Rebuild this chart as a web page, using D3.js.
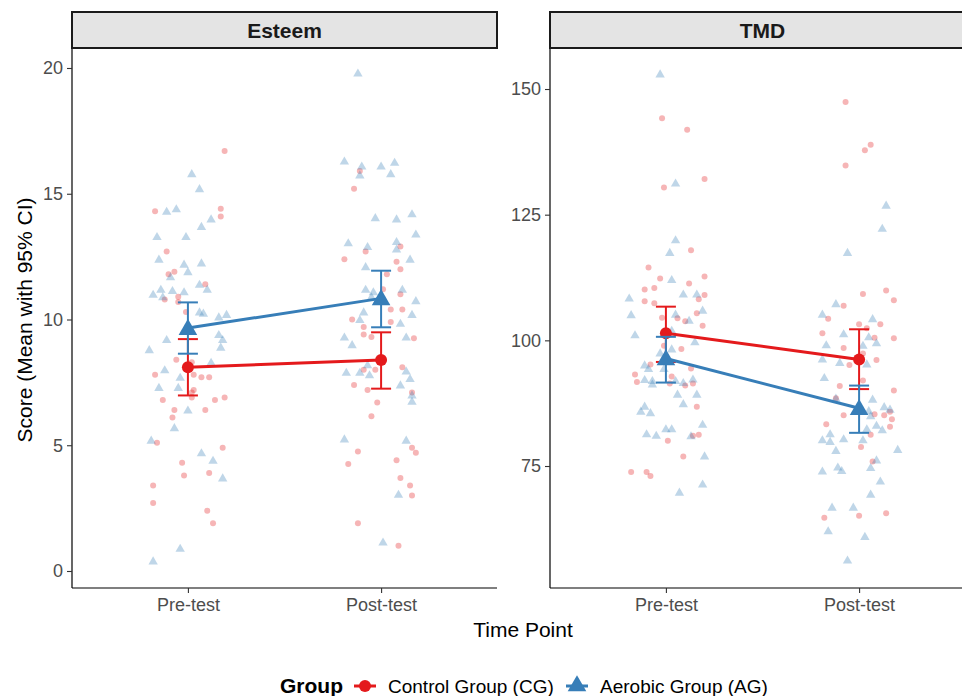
<!DOCTYPE html>
<html><head><meta charset="utf-8">
<script src="https://cdn.jsdelivr.net/npm/d3@7"></script>
<style>
html,body{margin:0;padding:0;background:#fff;}
svg{display:block;font-family:"Liberation Sans",Arial,sans-serif;}
</style></head>
<body><svg id="c" width="962" height="696"></svg>
<script>
// ---------- data ----------
const timePoints = ["Pre-test", "Post-test"];
const facets = ["Esteem", "TMD"];
const groups = ["Control Group (CG)", "Aerobic Group (AG)"];
const esteemTicks = [0, 5, 10, 15, 20];
const tmdTicks = [75, 100, 125, 150];

// jittered raw points: [jitter (category units), score]
const esteemCGPre = [[0.19,16.7],[-0.17,14.3],[0.17,14.4],[0.17,14.1],[-0.11,12.7],[-0.10,11.8],[-0.07,11.9],[0.09,11.4],[-0.05,10.9],[-0.12,10.8],[-0.05,10.7],[-0.01,10.3],[-0.06,8.4],[-0.17,7.8],[0.02,8.3],[0.03,7.8],[0.07,7.7],[0.11,7.7],[0.03,7.2],[0.02,7.1],[-0.13,6.8],[0.02,6.9],[0.14,6.8],[0.19,6.9],[-0.07,6.4],[0.09,6.4],[-0.08,6.1],[-0.16,5.1],[0.18,4.9],[-0.03,4.3],[-0.02,3.8],[0.11,3.9],[-0.18,3.4],[-0.18,2.7],[0.10,2.4],[0.13,1.9]];
const esteemAGPre = [[0.02,15.8],[0.06,15.2],[-0.11,14.3],[-0.06,14.4],[0.12,14.0],[0.07,13.7],[-0.16,13.3],[-0.01,13.3],[-0.15,12.4],[-0.02,12.2],[0.07,12.25],[0.00,11.9],[-0.09,11.7],[0.06,11.4],[0.10,11.2],[-0.14,11.2],[-0.08,11.15],[-0.02,11.1],[-0.18,11.0],[-0.13,10.9],[0.06,10.3],[0.08,10.25],[0.16,10.1],[0.20,10.2],[-0.11,9.2],[-0.20,8.8],[0.16,9.4],[0.18,9.2],[0.17,8.9],[-0.12,8.0],[0.12,8.3],[-0.04,7.7],[-0.15,7.3],[-0.05,7.3],[0.00,6.4],[-0.07,5.7],[-0.19,5.2],[0.07,4.7],[0.13,4.4],[0.18,3.7],[-0.04,0.9],[-0.18,0.4]];
const esteemCGPost = [[-0.11,15.9],[-0.14,15.2],[0.10,12.9],[-0.08,12.7],[-0.19,12.4],[0.08,12.3],[0.10,12.0],[0.03,11.8],[0.01,11.2],[0.10,11.0],[0.05,10.4],[0.11,10.4],[-0.15,10.0],[-0.09,9.7],[0.05,9.9],[-0.09,9.4],[-0.05,9.3],[0.17,9.25],[-0.09,8.0],[-0.03,8.0],[0.11,8.1],[-0.14,7.4],[-0.07,7.2],[0.16,7.1],[-0.02,6.7],[-0.05,6.15],[0.16,4.9],[0.18,4.7],[-0.12,4.75],[-0.17,4.25],[0.08,4.4],[0.10,3.7],[0.15,3.4],[0.16,3.0],[-0.12,1.9],[0.09,1.0]];
const esteemAGPost = [[-0.12,19.8],[-0.19,16.3],[-0.10,16.1],[-0.11,15.75],[0.00,16.1],[0.07,16.25],[0.05,15.8],[-0.03,14.05],[0.08,14.0],[0.16,14.2],[0.18,13.4],[-0.17,13.05],[-0.07,12.9],[0.08,13.1],[0.08,12.8],[0.15,12.4],[-0.08,12.1],[-0.08,11.2],[-0.04,11.1],[0.11,11.2],[0.18,10.75],[-0.05,10.9],[-0.09,10.3],[0.16,10.2],[-0.11,10.0],[0.10,9.85],[-0.19,9.3],[-0.15,9.0],[0.13,9.3],[-0.18,7.9],[-0.11,7.9],[-0.07,8.2],[-0.06,7.8],[0.13,7.95],[0.15,7.65],[0.10,7.4],[0.16,7.0],[0.16,6.75],[-0.19,5.25],[0.13,5.2],[0.09,3.05],[0.01,1.15]];
const tmdCGPre = [[-0.02,144.2],[0.11,141.9],[0.20,132.1],[-0.01,130.4],[0.13,117.9],[-0.09,114.5],[-0.03,112.3],[0.20,112.7],[-0.11,110.1],[-0.06,110.4],[0.12,111.3],[0.17,108.2],[0.20,109.0],[-0.11,107.8],[-0.06,107.4],[-0.02,104.5],[0.06,104.4],[0.10,103.8],[0.16,105.4],[0.19,102.9],[0.08,98.3],[-0.01,98.9],[-0.08,95.2],[0.13,94.4],[-0.16,93.2],[-0.15,91.7],[0.03,92.8],[0.02,91.4],[0.10,91.0],[0.14,91.4],[0.16,86.8],[0.01,80.0],[0.14,81.0],[0.17,81.2],[0.09,76.9],[-0.18,73.8],[-0.10,73.8],[-0.08,73.0]];
const tmdAGPre = [[-0.03,153.0],[0.05,131.3],[0.05,120.0],[0.02,117.5],[0.03,112.1],[0.09,109.2],[0.16,109.2],[-0.19,108.4],[0.19,106.0],[-0.18,105.1],[0.05,105.2],[0.12,104.0],[-0.16,101.1],[0.03,102.0],[0.03,98.3],[0.15,99.7],[-0.03,97.5],[-0.11,95.1],[-0.09,94.4],[-0.01,94.4],[-0.11,92.2],[-0.07,92.0],[-0.07,91.3],[0.05,92.0],[0.09,91.6],[0.14,92.3],[0.06,89.3],[0.16,89.3],[0.09,87.4],[-0.11,86.9],[-0.13,85.9],[-0.08,85.6],[0.19,83.3],[0.00,82.4],[0.03,82.4],[-0.10,81.4],[-0.05,81.1],[0.13,81.0],[0.20,77.0],[0.19,71.4],[0.07,69.8]];
const tmdCGPost = [[-0.07,147.4],[0.06,138.9],[0.03,137.8],[-0.07,134.8],[0.02,109.2],[0.14,109.9],[0.18,108.0],[-0.08,106.9],[-0.16,104.3],[0.00,103.2],[0.11,103.2],[0.04,102.4],[-0.19,101.4],[0.08,100.5],[0.18,100.4],[-0.08,98.5],[0.02,97.4],[-0.05,95.1],[0.09,96.1],[0.02,92.0],[-0.10,90.9],[0.18,90.0],[-0.12,88.5],[0.16,85.8],[0.08,85.3],[0.13,85.1],[-0.08,85.1],[0.17,84.3],[-0.17,83.3],[0.16,82.8],[0.06,81.2],[0.01,78.8],[0.07,75.9],[0.14,65.6],[-0.18,64.7],[0.00,65.1]];
const tmdAGPost = [[0.14,126.9],[0.12,122.3],[-0.06,117.5],[-0.12,107.3],[-0.19,105.2],[0.07,104.3],[-0.08,101.3],[0.05,100.7],[0.09,99.5],[-0.17,99.1],[0.02,99.0],[-0.19,96.3],[-0.10,95.6],[0.04,95.3],[-0.18,92.6],[-0.12,88.5],[0.07,88.3],[0.13,86.8],[0.16,86.3],[0.05,86.0],[0.06,85.0],[0.09,83.1],[0.12,82.2],[0.04,82.4],[-0.15,81.4],[-0.19,80.2],[-0.15,79.9],[-0.08,80.4],[0.02,80.2],[-0.12,78.1],[0.20,78.3],[0.09,76.2],[-0.11,74.8],[-0.09,74.1],[0.06,74.7],[-0.19,74.0],[0.11,72.0],[0.06,69.4],[-0.14,66.8],[-0.03,66.8],[-0.16,62.1],[0.03,61.0],[-0.06,56.3]];

// means with 95% CI: [mean, lower, upper] for Pre-test, Post-test
const esteemCGMean = [[8.10, 6.98, 9.22], [8.39, 7.25, 9.49]];
const esteemAGMean = [[9.66, 8.64, 10.68], [10.84, 9.69, 11.94]];
const tmdCGMean = [[101.4, 95.7, 106.7], [96.2, 90.3, 102.2]];
const tmdAGMean = [[96.4, 91.6, 100.7], [86.5, 81.6, 91.0]];

// ---------- layout ----------
const svg = d3.select("#c");
const colors = {CG: "#E41A1C", AG: "#377EB8"};
const panelW = 425, panelTop = 48, panelH = 540;
const panels = [
  {name: facets[0], x0: 72, domain: [-0.676, 20.795], ticks: esteemTicks,
   cg: [esteemCGPre, esteemCGPost], ag: [esteemAGPre, esteemAGPost], cgM: esteemCGMean, agM: esteemAGMean},
  {name: facets[1], x0: 550, domain: [50.73, 158.16], ticks: tmdTicks,
   cg: [tmdCGPre, tmdCGPost], ag: [tmdAGPre, tmdAGPost], cgM: tmdCGMean, agM: tmdAGMean}
];

const tri = d3.symbol().type(d3.symbolTriangle);

panels.forEach(p => {
  const g = svg.append("g").attr("transform", `translate(${p.x0},${panelTop})`);
  const x = d3.scaleLinear().domain([0.4, 2.6]).range([0, panelW]);
  const y = d3.scaleLinear().domain(p.domain).range([panelH, 0]);

  // jitter points
  const pts = g.append("g");
  [["cg", "CG"], ["ag", "AG"]].forEach(([k, key]) => {
    p[k].forEach((arr, ti) => {
      arr.forEach(d => {
        const cx = x(ti + 1 + d[0]), cy = y(d[1]);
        if (key === "CG") {
          pts.append("circle").attr("cx", cx).attr("cy", cy).attr("r", 3)
            .attr("fill", colors.CG).attr("fill-opacity", 0.32);
        } else {
          pts.append("path").attr("d", tri.size(38)())
            .attr("transform", `translate(${cx},${cy + 0.8})`)
            .attr("fill", colors.AG).attr("fill-opacity", 0.32);
        }
      });
    });
  });

  // error bars, lines, means
  [["cgM", "CG"], ["agM", "AG"]].forEach(([k, key]) => {
    const m = p[k];
    const col = colors[key];
    m.forEach((d, ti) => {
      const cx = x(ti + 1);
      g.append("line").attr("x1", cx).attr("x2", cx).attr("y1", y(d[1])).attr("y2", y(d[2]))
        .attr("stroke", col).attr("stroke-width", 2);
      [d[1], d[2]].forEach(v => g.append("line").attr("x1", cx - 10).attr("x2", cx + 10)
        .attr("y1", y(v)).attr("y2", y(v)).attr("stroke", col).attr("stroke-width", 2));
    });
    g.append("path").datum(m)
      .attr("d", d3.line().x((d, i) => x(i + 1)).y(d => y(d[0])))
      .attr("fill", "none").attr("stroke", col).attr("stroke-width", 3);
    m.forEach((d, ti) => {
      if (key === "CG") {
        g.append("circle").attr("cx", x(ti + 1)).attr("cy", y(d[0])).attr("r", 6).attr("fill", col);
      } else {
        g.append("path").attr("d", tri.size(150)())
          .attr("transform", `translate(${x(ti + 1)},${y(d[0]) + 1.5})`).attr("fill", col);
      }
    });
  });

  // axes
  const ya = g.append("g").call(d3.axisLeft(y).tickValues(p.ticks).tickSize(5).tickPadding(4));
  const xa = g.append("g").attr("transform", `translate(0,${panelH})`)
    .call(d3.axisBottom(x).tickValues([1, 2]).tickFormat(i => timePoints[i - 1]).tickSize(5).tickPadding(5));
  [ya, xa].forEach(a => {
    a.select(".domain").attr("stroke", "#000").attr("stroke-width", 1.2);
    a.selectAll(".tick line").attr("stroke", "#333").attr("stroke-width", 1.1);
    a.selectAll(".tick text").attr("fill", "#4d4d4d").style("font-size", "18px")
      .style("font-family", '"Liberation Sans",Arial,sans-serif');
  });
  ya.select(".domain").attr("d", `M0,0V${panelH}`);
  xa.select(".domain").attr("d", `M0,0H${panelW}`);

  // strip
  svg.append("rect").attr("x", p.x0).attr("y", 12).attr("width", panelW).attr("height", 36)
    .attr("fill", "#e4e4e4").attr("stroke", "#1a1a1a").attr("stroke-width", 2);
  svg.append("text").attr("x", p.x0 + panelW / 2).attr("y", 38).attr("text-anchor", "middle")
    .style("font-size", "21px").style("font-weight", "bold").attr("fill", "#1a1a1a").text(p.name);
});

// axis titles
svg.append("text").attr("x", 523).attr("y", 637).attr("text-anchor", "middle")
  .style("font-size", "21px").attr("fill", "#000").text("Time Point");
svg.append("text").attr("transform", "translate(32,320) rotate(-90)").attr("text-anchor", "middle")
  .style("font-size", "21px").attr("fill", "#000").text("Score (Mean with 95% CI)");

// legend
const lg = svg.append("g");
lg.append("text").attr("x", 280).attr("y", 693).style("font-size", "21px").style("font-weight", "bold").text("Group");
const items = [{x: 354, key: "CG", label: groups[0], tx: 388}, {x: 566, key: "AG", label: groups[1], tx: 600}];
items.forEach(it => {
  lg.append("line").attr("x1", it.x).attr("x2", it.x + 22).attr("y1", 686).attr("y2", 686)
    .attr("stroke", colors[it.key]).attr("stroke-width", 3);
  if (it.key === "CG") lg.append("circle").attr("cx", it.x + 11).attr("cy", 686).attr("r", 6).attr("fill", colors.CG);
  else lg.append("path").attr("d", tri.size(150)()).attr("transform", `translate(${it.x + 11},${686})`).attr("fill", colors.AG);
  lg.append("text").attr("x", it.tx).attr("y", 693).style("font-size", "19px").attr("fill", "#000").text(it.label);
});
</script>
</body></html>
